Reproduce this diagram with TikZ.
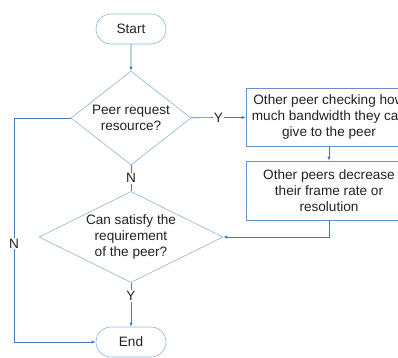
\documentclass[tikz,border=0pt]{standalone}
\usepackage{fontspec}
\setmainfont{Liberation Sans}
\usetikzlibrary{shapes.geometric,shapes.misc,arrows.meta}
\definecolor{linec}{HTML}{4A7AB0}
\definecolor{shapec}{HTML}{8DB3DA}
\definecolor{boxc}{HTML}{6693C6}
\definecolor{txtc}{HTML}{222222}
\begin{document}
\begin{tikzpicture}[x=1pt,y=1pt,
  every node/.style={text=txtc,font=\fontsize{13.6}{15.8}\selectfont},
  term/.style={draw=shapec,rounded rectangle,minimum width=70pt,minimum height=30pt,inner sep=0pt,line width=0.6pt},
  decide/.style={draw=shapec,diamond,inner sep=0pt,align=center,line width=0.6pt},
  proc/.style={draw=boxc,rectangle,minimum width=166pt,minimum height=58pt,inner sep=0pt,align=center,line width=0.6pt},
  conn/.style={draw=linec,line width=0.7pt,-{Latex[length=4pt,width=3.2pt]}},
  plain/.style={draw=linec,line width=0.7pt},
  lbl/.style={fill=white,inner sep=1pt}]
\useasboundingbox (0,0) rectangle (398,357);
\node[term] (start) at (131,328) {Start};
\node[decide,aspect=1.3,minimum width=120pt,minimum height=94pt] (d1) at (131,239) {Peer request\\resource?};
\node[decide,aspect=2,minimum width=184pt,minimum height=91pt] (d2) at (131,120) {Can satisfy the\\requirement\\of the peer?};
\node[term] (end) at (131,15) {End};
\node[proc] (b1) at (329,240) {Other peer checking how\\much bandwidth they can\\give to the peer};
\node[proc,minimum height=59pt] (b2) at (329,166.5) {Other peers decrease\\their frame rate or\\resolution};
\coordinate (L) at (14,239);
\draw[conn] (start) -- (d1);
\draw[conn] (d1) -- node[lbl] {Y} (b1);
\draw[conn] (b1) -- (b2);
\draw[conn] (b2.south) |- (d2.east);
\draw[plain] (d1.south) -- node[lbl,pos=0.5] {N} (d2.north);
\draw[conn] (d2) -- node[lbl,pos=0.3] {Y} (end);
\draw[conn] (d1.west) -- (L) |- node[lbl,pos=0.28] {N} (end.west);
\end{tikzpicture}
\end{document}
